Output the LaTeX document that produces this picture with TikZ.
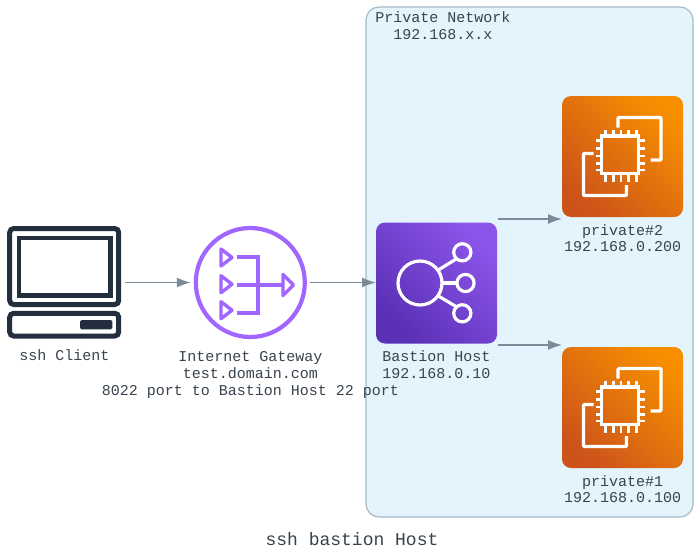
\documentclass[tikz,border=0pt]{standalone}
\usepackage{fontspec}
\setmonofont{Liberation Mono}
\usetikzlibrary{positioning}
\usetikzlibrary{arrows.meta}
\definecolor{inkdark}{HTML}{232F3E}
\definecolor{labelgray}{HTML}{38434E}
\definecolor{connectorgray}{HTML}{7B8B98}
\definecolor{panelblue}{HTML}{E3F4FD}
\definecolor{panelline}{HTML}{A8BAC6}
\definecolor{gatewaypurple}{HTML}{A166FF}
\definecolor{purplelight}{HTML}{8C55EA}
\definecolor{purpledark}{HTML}{5A30B5}
\definecolor{orangelight}{HTML}{F78E00}
\definecolor{orangedark}{HTML}{CC541A}
\tikzset{
    ec2icon/.pic = {
        \draw[whiteline, rounded corners=1pt] (-4.5,-29) -- (-4.5,-39) -- (38.5,-39) -- (38.5,3.5) -- (28,3.5);
        \draw[whiteline, rounded corners=1pt] (-29,-3) -- (-39,-3) -- (-39,39) -- (4,39) -- (4,28.5);
        \draw[whiteline, line width=3.6pt] (-21,-20.5) rectangle (16,17);
        \foreach \i in {-17,-9,-1.5,6,14} {
            \draw[whiteline, line width=2.4pt] (\i,-20.5) -- (\i,-26.5);
            \draw[whiteline, line width=2.4pt] (\i,17) -- (\i,25.5);
        }
        \foreach \i in {-16,-8,-0.5,7,13.5} {
            \draw[whiteline, line width=2.4pt] (-21,\i) -- (-26.5,\i);
            \draw[whiteline, line width=2.4pt] (16,\i) -- (22.5,\i);
        }
    }
}
\begin{document}
\begin{tikzpicture}[x=1pt, y=-1pt,
    whiteline/.style = {draw=white, line width=3.2pt},
    inkline/.style = {draw=inkdark, line width=5pt, rounded corners=4pt},
    gateline/.style = {draw=gatewaypurple, line width=4.2pt},
    conn/.style = {draw=connectorgray, line width=1.4pt, -{Latex[length=14pt,width=10pt]}},
    lbl/.style = {text=labelgray, font=\ttfamily\fontsize{15}{16.9}\selectfont, align=center, inner sep=0pt},
    box/.style = {minimum size=121pt, inner sep=0pt, outer sep=0pt, rounded corners=9pt},
    ec2box/.style = {box, left color=orangedark, right color=orangelight, shading angle=135},
    elbbox/.style = {box, left color=purpledark, right color=purplelight, shading angle=135}]
    \useasboundingbox (0,0) rectangle (695,551);

    \draw[fill=panelblue, draw=panelline, line width=1.2pt, rounded corners=13pt] (366,7) rectangle (693,517);

    \node[minimum width=114pt, minimum height=112pt, inner sep=0pt, outer sep=3.5pt] (client) at (64.5,282.5) {};
    \node[circle, gateline, minimum size=109pt, inner sep=0pt, outer sep=5pt] (gateway) at (250.3,282.5) {};
    \node[elbbox] (bastion) at (436.5,283) {};
    \node[ec2box] (private2) at (622.5,156.5) {};
    \node[ec2box] (private1) at (622.5,407.5) {};

    % client icon
    \draw[inkline] (9.7,228.5) rectangle (118.7,304.5);
    \draw[inkline, line width=4.4pt, rounded corners=0pt] (18.7,238) rectangle (110.3,295.3);
    \draw[inkline] (9.7,313.3) rectangle (118.7,336);
    \fill[inkdark, rounded corners=1.5pt] (80,320) rectangle (112.3,329.3);

    % gateway icon
    \foreach \y in {-25,1.7,27.7} {
        \draw[gateline, line width=3.4pt, line join=round] (221,282.5+\y-8.5) -- (221,282.5+\y+8.5) -- (232,282.5+\y) -- cycle;
    }
    \draw[gateline] (237.3,256.7) -- (258.3,256.7) -- (258.3,312.7) -- (237.3,312.7);
    \draw[gateline] (237.3,285) -- (283,285);
    \draw[gateline, line width=3.4pt, line join=round] (283,274.5) -- (293.5,285) -- (283,295.5) -- cycle;

    % bastion icon
    \draw[whiteline] (bastion.center) ++(-16.5,0) coordinate (hub) circle (22);
    \coordinate (spokea) at ([shift={(25.8,-30.7)}]bastion.center);
    \coordinate (spokeb) at ([shift={(29,0)}]bastion.center);
    \coordinate (spokec) at ([shift={(25.8,30.3)}]bastion.center);
    \foreach \c in {spokea,spokeb,spokec} {
        \draw[whiteline] (\c) circle (8.6);
    }
    \draw[whiteline] (hub) ++(18,-12.8) -- ([shift={(-6,6.6)}]spokea);
    \draw[whiteline] (hub) ++(22,0) -- ([shift={(-8.6,0)}]spokeb);
    \draw[whiteline] (hub) ++(18,12.8) -- ([shift={(-6,-6.6)}]spokec);

    \pic at (private2.center) {ec2icon};
    \pic at (private1.center) {ec2icon};

    \coordinate (upperstart) at (497.5,219);
    \coordinate (lowerstart) at (497.5,345);
    \draw[conn] (client.east) -- (client.east -| gateway.west);
    \draw[conn] (gateway.east) -- (gateway.east -| bastion.west);
    \draw[conn] (upperstart) -- (upperstart -| private2.west);
    \draw[conn] (lowerstart) -- (lowerstart -| private1.west);

    \node[lbl, below=7.5pt of client.south] (clientlabel) {ssh Client};
    \node[lbl, below=9pt of gateway.south] (gatewaylabel) {Internet Gateway\\test.domain.com\\8022 port to Bastion Host 22 port};
    \node[lbl, below=7pt of bastion.south] (bastionlabel) {Bastion Host\\192.168.0.10};
    \node[lbl, below=7pt of private2.south] (private2label) {private\#2\\192.168.0.200};
    \node[lbl, below=7pt of private1.south] (private1label) {private\#1\\192.168.0.100};
    \node[lbl] (networklabel) at (443,26) {Private Network\\192.168.x.x};
    \node[lbl, font=\ttfamily\fontsize{18}{20}\selectfont] (title) at (352,539) {ssh bastion Host};
\end{tikzpicture}
\end{document}
